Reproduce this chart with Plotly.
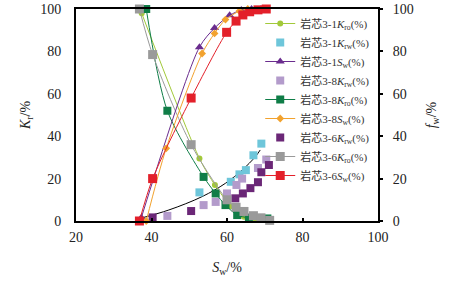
import plotly.graph_objects as go

# ---- data ----
kro31_x = [37.4, 52.7, 56.8, 61.0, 64.5, 67.5, 70.0]
kro31_y = [98.0, 29.5, 17.0, 7.0, 2.0, 1.0, 0.5]

krw31_x = [52.7, 61.0, 63.3, 65.0, 67.0, 69.1]
krw31_y = [13.5, 18.5, 22.0, 24.0, 31.0, 36.5]

sw31_x = [37.3, 52.7, 56.7, 60.7, 63.8, 66.5, 69.0]
sw31_y = [1.5, 82.0, 91.0, 97.0, 99.5, 100.0, 100.0]

krw38_x = [44.2, 53.8, 57.0, 60.0, 62.5, 64.0, 68.2, 70.4]
krw38_y = [2.4, 7.5, 9.0, 13.0, 17.0, 20.0, 25.0, 29.0]

kro38_x = [38.6, 44.2, 53.8, 57.0, 59.6, 62.7, 65.8, 70.7]
kro38_y = [100.0, 52.0, 20.8, 13.0, 7.5, 2.8, 1.5, 1.2]

sw38_x = [38.6, 43.9, 53.4, 56.7, 59.6, 63.3, 65.5]
sw38_y = [0.0, 34.3, 79.0, 88.5, 95.0, 99.0, 100.0]

krw36_x = [40.3, 50.5, 62.2, 64.2, 66.2, 68.2, 69.1, 71.1]
krw36_y = [1.7, 4.7, 10.7, 13.0, 15.5, 18.3, 23.0, 26.4]

kro36_x = [36.8, 40.3, 50.5, 60.0, 62.4, 64.5, 67.0, 69.0, 71.3]
kro36_y = [100.0, 78.5, 36.0, 10.0, 6.5, 4.5, 2.5, 1.5, 0.3]

sw36_x = [36.8, 40.3, 50.5, 59.9, 62.4, 64.2, 66.0, 68.2, 70.4]
sw36_y = [0.0, 20.0, 58.0, 89.0, 94.3, 97.2, 98.7, 99.6, 100.0]

trend_x = [37.1, 44.6, 53.4, 59.6, 64.0, 67.5, 68.8]
trend_y = [1.3, 5.2, 11.5, 17.8, 24.0, 30.3, 33.5]

x_ticks = [20, 40, 60, 80, 100]
y_ticks = [0, 20, 40, 60, 80, 100]

FONT = "Liberation Serif, Times New Roman, Noto Sans CJK SC, serif"

def name(core, sym, sub):
    return "岩芯" + core + "<i>" + sym + "</i><sub>" + sub + "</sub>(%)"

fig = go.Figure()

def line_trace(x, y, nm, color, symbol, size, yaxis="y", lw=1):
    fig.add_trace(go.Scatter(
        x=x, y=y, name=nm, mode="lines+markers", yaxis=yaxis,
        line=dict(color=color, width=lw, shape="spline", smoothing=0.8),
        marker=dict(color=color, symbol=symbol, size=size, line=dict(width=0)),
        cliponaxis=False))

def pts_trace(x, y, nm, color, size):
    fig.add_trace(go.Scatter(
        x=x, y=y, name=nm, mode="markers",
        marker=dict(color=color, symbol="square", size=size, line=dict(width=0)),
        cliponaxis=False))

# trend curve (no legend)
fig.add_trace(go.Scatter(x=trend_x, y=trend_y, mode="lines", showlegend=False,
                         line=dict(color="black", width=1, shape="spline"),
                         hoverinfo="skip"))

line_trace(kro31_x, kro31_y, name("3-1", "K", "ro"), "#A2C93A", "circle", 6)
pts_trace(krw31_x, krw31_y, name("3-1", "K", "rw"), "#6EC6DA", 8)
line_trace(sw31_x, sw31_y, name("3-1", "S", "w"), "#6A2C8E", "triangle-up", 8, yaxis="y2")
pts_trace(krw38_x, krw38_y, name("3-8", "K", "rw"), "#B39BCB", 8)
line_trace(kro38_x, kro38_y, name("3-8", "K", "ro"), "#0F7D47", "square", 8)
line_trace(sw38_x, sw38_y, name("3-8", "S", "w"), "#F2A22E", "diamond", 6, yaxis="y2")
pts_trace(krw36_x, krw36_y, name("3-6", "K", "rw"), "#6B2777", 8)
line_trace(kro36_x, kro36_y, name("3-6", "K", "ro"), "#9A9A9A", "square", 9)
line_trace(sw36_x, sw36_y, name("3-6", "S", "w"), "#E3202A", "square", 9, yaxis="y2")

axis_common = dict(
    range=[0, 100], tickvals=y_ticks, showgrid=False, zeroline=False,
    showline=True, linecolor="black", linewidth=2, automargin=False,
    ticklabeloverflow="allow",
    tickfont=dict(family=FONT, size=14, color="#222"),
)

fig.update_layout(
    width=452, height=283,
    margin=dict(l=76, r=74, t=9, b=62),
    paper_bgcolor="white", plot_bgcolor="white",
    font=dict(family=FONT, color="#222"),
    xaxis=dict(range=[20, 100], tickvals=x_ticks, showgrid=False, zeroline=False,
               showline=True, linecolor="black", linewidth=2, mirror=True,
               automargin=False, ticklabeloverflow="allow",
               ticks="inside", ticklen=3, tickcolor="black", tickwidth=1.5,
               ticklabelstandoff=2,
               tickfont=dict(family=FONT, size=14, color="#222"),
               title=dict(text="<i>S</i><sub>w</sub>/%", font=dict(family=FONT, size=14),
                          standoff=18)),
    yaxis=dict(**axis_common, ticks="", mirror=False, side="left",
               ticklabelstandoff=10,
               title=dict(text="<i>K</i><sub>r</sub>/%", font=dict(family=FONT, size=14),
                          standoff=6)),
    yaxis2=dict(**axis_common, overlaying="y", side="right", anchor="x",
                ticks="outside", ticklen=3, tickcolor="black", tickwidth=1.5,
                ticklabelstandoff=7,
                title=dict(text="<i>f</i><sub>w</sub>/%", font=dict(family=FONT, size=14),
                           standoff=13)),
    legend=dict(x=0.61, y=1.0, xanchor="left", yanchor="top",
                bgcolor="rgba(0,0,0,0)", font=dict(family=FONT, size=11, color="#333"),
                itemwidth=30, tracegroupgap=0),
    showlegend=True,
)

fig.write_html("out.html", config={"displayModeBar": False},
               post_script="document.body.style.margin='0';")
